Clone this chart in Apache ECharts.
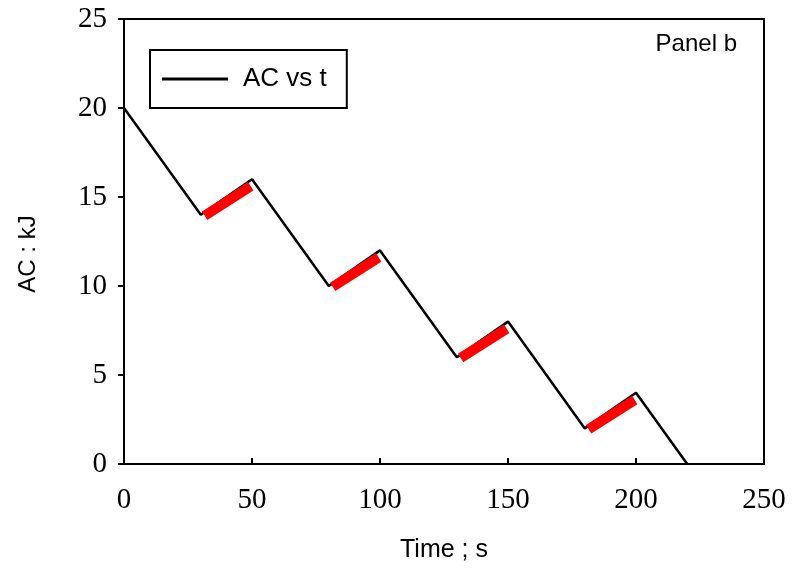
<!DOCTYPE html>
<html><head><meta charset="utf-8">
<script src="https://cdn.jsdelivr.net/npm/echarts@6/dist/echarts.min.js"></script>
<style>html,body{margin:0;padding:0;background:#fff}#c{width:792px;height:568px}</style>
</head><body><div id="c"></div>
<script>
// Main curve: AC vs t
const timeS = [0, 30, 50, 80, 100, 130, 150, 180, 200, 220];
const acKJ  = [20, 14, 16, 10, 12, 6, 8, 2, 4, 0];
// Red highlighted charging segments [t0, ac0, t1, ac1]
const redSegments = [
  [31.5, 13.95, 49.5, 15.6],
  [81.5, 9.95, 99.5, 11.6],
  [131.5, 5.95, 149.5, 7.6],
  [181.5, 1.95, 199.5, 3.6]
];
const xTicks = [0, 50, 100, 150, 200, 250];
const yTicks = [0, 5, 10, 15, 20, 25];

const chart = echarts.init(document.getElementById('c'));
const series = [{
  name: 'AC vs t', type: 'line', data: timeS.map((t, i) => [t, acKJ[i]]),
  symbol: 'none', lineStyle: {color: '#000', width: 2.5}, z: 3
}];
redSegments.forEach((s, i) => series.push({
  name: 'seg' + i, type: 'line', data: [[s[0], s[1]], [s[2], s[3]]],
  symbol: 'none', lineStyle: {color: '#ff0000', width: 10, cap: 'butt'}, z: 4
}));
chart.setOption({
  animation: false,
  grid: {left: 124, top: 19, right: 28, bottom: 103, show: true, borderColor: '#000', borderWidth: 2},
  legend: {
    data: [{name: 'AC vs t', icon: 'rect', itemStyle: {color: '#000'}}],
    left: 150, top: 50, itemWidth: 66, itemHeight: 3, itemGap: 10,
    padding: [16, 20, 16, 12], borderColor: '#000', borderWidth: 2,
    textStyle: {fontFamily: 'Liberation Sans, Arial', fontSize: 26, color: '#000', padding: [0, 0, 0, 10]}
  },
  xAxis: {
    type: 'value', min: xTicks[0], max: xTicks[xTicks.length - 1], interval: 50,
    name: 'Time ; s', nameLocation: 'middle', nameGap: 74,
    nameTextStyle: {fontFamily: 'Liberation Sans, Arial', fontSize: 25, color: '#000'},
    axisLine: {lineStyle: {color: '#000', width: 2}},
    axisTick: {inside: true, length: 6, lineStyle: {color: '#000', width: 2}},
    axisLabel: {fontFamily: 'Liberation Serif, Times New Roman', fontSize: 29, color: '#000', margin: 22},
    splitLine: {show: false}
  },
  yAxis: {
    type: 'value', min: yTicks[0], max: yTicks[yTicks.length - 1], interval: 5,
    axisLine: {lineStyle: {color: '#000', width: 2}},
    axisTick: {length: 6, lineStyle: {color: '#000', width: 2}},
    axisLabel: {fontFamily: 'Liberation Serif, Times New Roman', fontSize: 29, color: '#000', margin: 17},
    splitLine: {show: false}
  },
  graphic: [{
    type: 'text', right: 55, top: 32,
    style: {text: 'Panel b', font: '24px Liberation Sans, Arial', fill: '#000'}
  }, {
    type: 'text', x: 28, y: 254, rotation: Math.PI / 2,
    style: {text: 'AC : kJ', font: '24px Liberation Sans, Arial', fill: '#000', align: 'center', verticalAlign: 'middle'}
  }],
  series: series
});
</script></body></html>
